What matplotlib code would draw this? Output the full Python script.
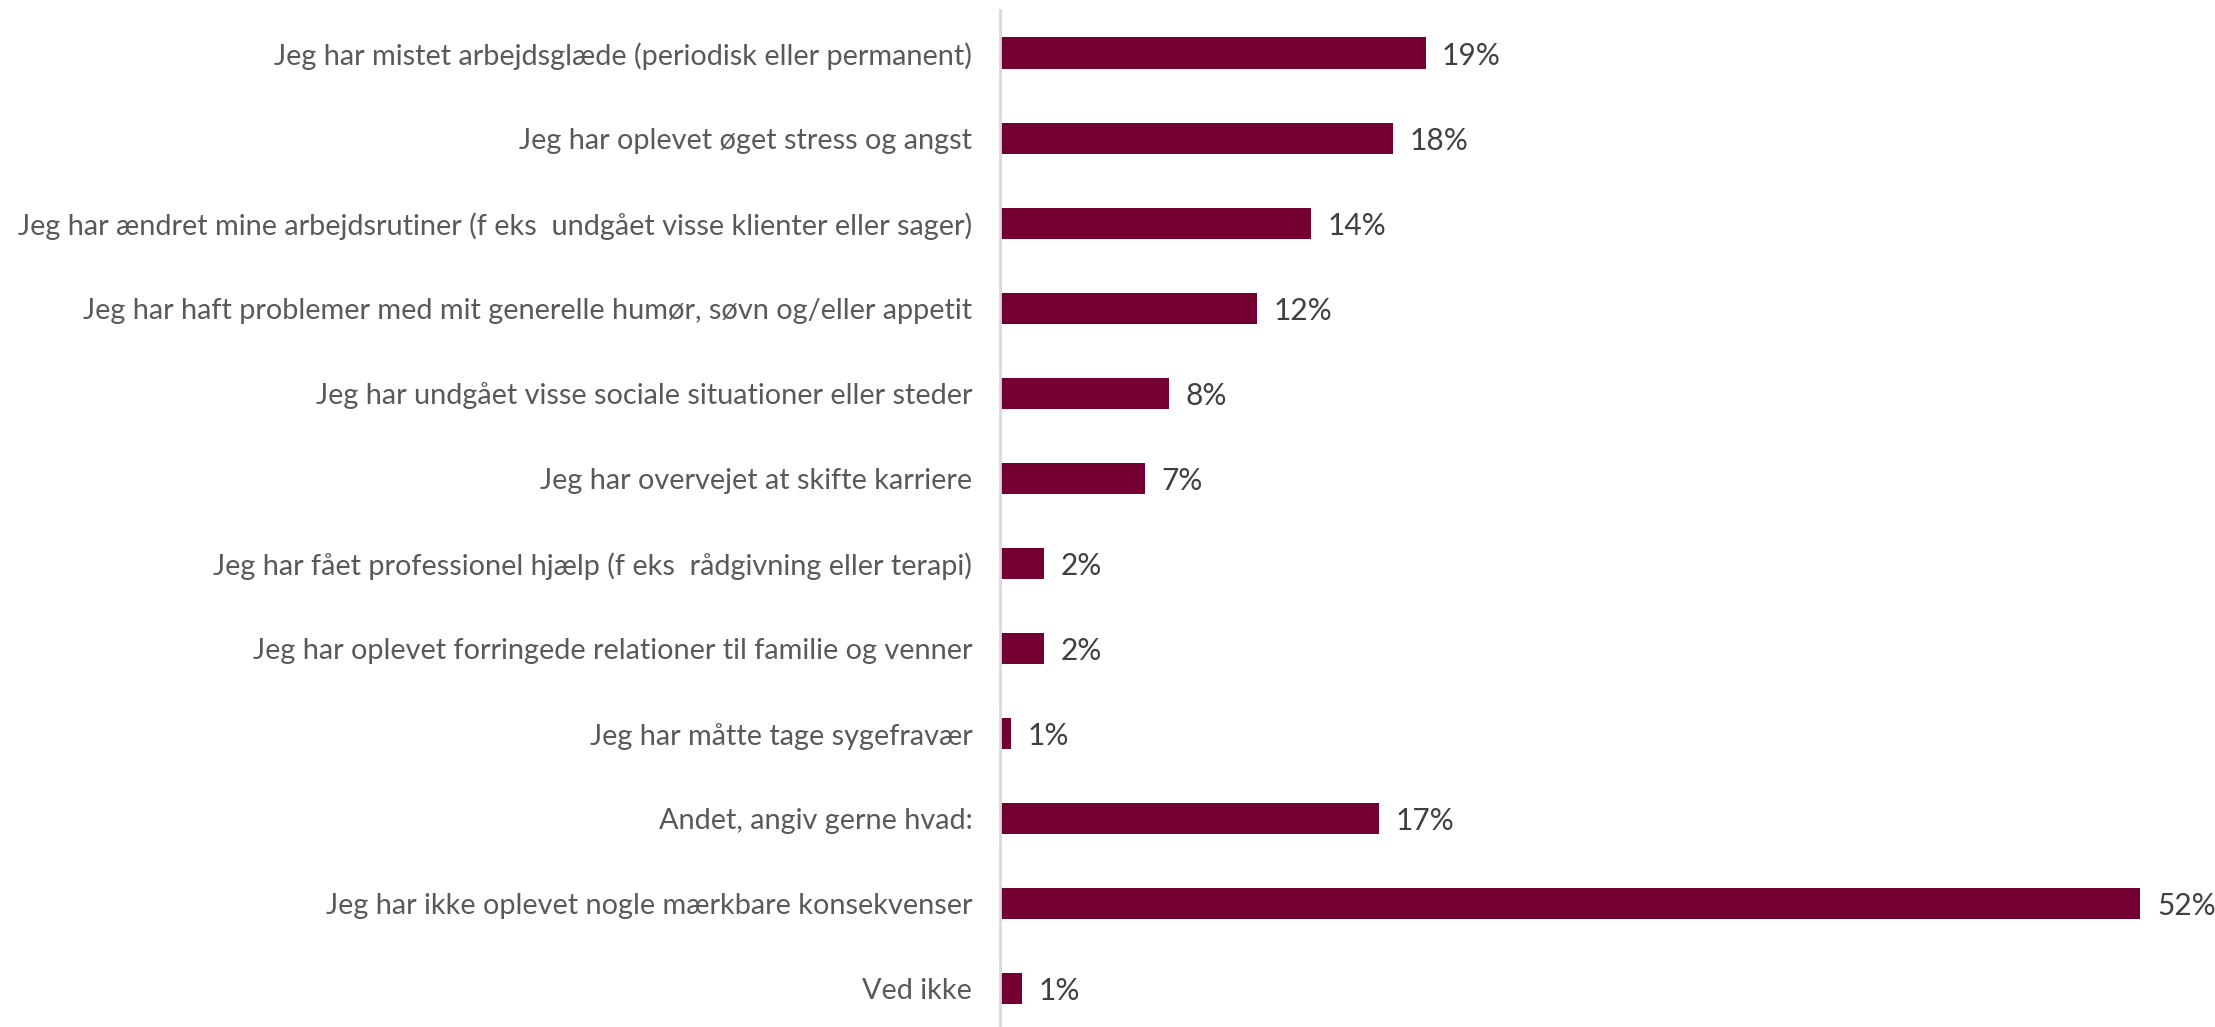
import numpy as np
import matplotlib.pyplot as plt

plt.rcParams['font.family'] = ['Lato', 'DejaVu Sans']

labels = [
    'Jeg har mistet arbejdsglæde (periodisk eller permanent)',
    'Jeg har oplevet øget stress og angst',
    'Jeg har ændret mine arbejdsrutiner (f eks  undgået visse klienter eller sager)',
    'Jeg har haft problemer med mit generelle humør, søvn og/eller appetit',
    'Jeg har undgået visse sociale situationer eller steder',
    'Jeg har overvejet at skifte karriere',
    'Jeg har fået professionel hjælp (f eks  rådgivning eller terapi)',
    'Jeg har oplevet forringede relationer til familie og venner',
    'Jeg har måtte tage sygefravær',
    'Andet, angiv gerne hvad:',
    'Jeg har ikke oplevet nogle mærkbare konsekvenser',
    'Ved ikke',
]
values = [19.4, 17.9, 14.2, 11.7, 7.7, 6.6, 2.0, 2.0, 0.5, 17.3, 52.0, 1.0]
shown = ['19%', '18%', '14%', '12%', '8%', '7%', '2%', '2%', '1%', '17%', '52%', '1%']

fig = plt.figure(figsize=(22.15, 10.27), dpi=100)
ax = fig.add_axes([0.4515, 0.0, 0.5485, 0.990])

y = np.arange(len(labels))
ax.barh(y, values, height=0.37, color='#730030')

for yi, v, s in zip(y, values, shown):
    ax.text(v + 0.75, yi + 0.03, s, va='center', ha='left', fontsize=21.5, color='#404040')

ax.set_yticks(y)
ax.set_yticklabels(labels, fontsize=20.8, color='#595959')
ax.tick_params(axis='y', length=0, pad=20)
ax.set_xticks([])
ax.set_xlim(0, 55.4)
ax.set_ylim(11.45, -0.505)

for side in ['top', 'right', 'bottom']:
    ax.spines[side].set_visible(False)
ax.spines['left'].set_color('#d9d9d9')
ax.spines['left'].set_linewidth(2)

plt.savefig('out.png', dpi=100)
